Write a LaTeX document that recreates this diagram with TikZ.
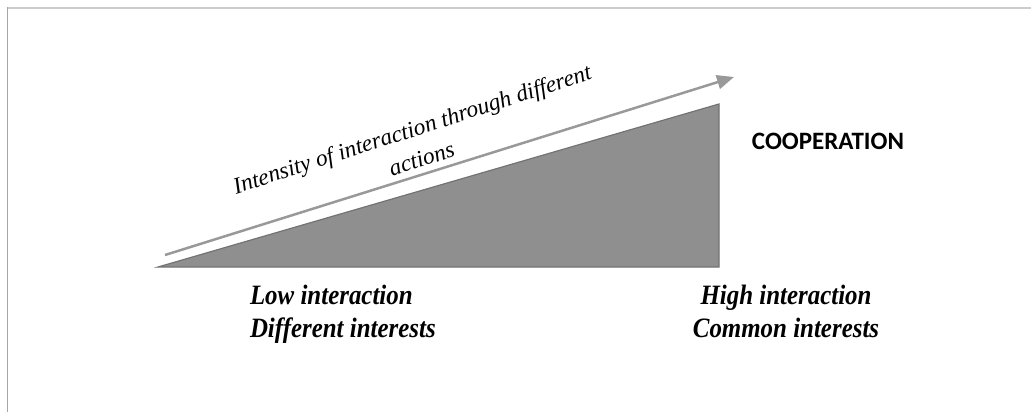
\documentclass[tikz,border=0pt]{standalone}
\usepackage{fontspec}
\setmainfont{Liberation Serif}
\newfontfamily\levelfont[FakeStretch=0.89]{Liberation Serif}
\newfontfamily\coopfont{Carlito}
\usetikzlibrary{arrows.meta}

\begin{document}
\begin{tikzpicture}[x=1pt,y=-1pt]
\tikzstyle{every node}=[inner sep=0pt,outer sep=0pt]
\tikzstyle{level}=[font=\levelfont\bfseries\itshape\fontsize{28}{33}\selectfont]
 \useasboundingbox (0,0) rectangle (1031,412);
 % frame
 \draw[black!20,line width=2pt] (7,8) -- (1031,8);
 \draw[black!35,line width=1.5pt] (7.5,7) -- (7.5,412);
 % wedge
 \coordinate (L) at (158,267);
 \coordinate (R) at (719,267);
 \coordinate (T) at (719,104);
 \filldraw[fill=black!44,draw=black!55,line width=1.2pt] (L) -- (R) -- (T) -- cycle;
 % arrow
 \coordinate (A0) at (165,255);
 \coordinate (A1) at (734,77);
 \draw[-{Triangle[length=17pt,width=14pt]},line width=2.5pt,black!40] (A0) -- (A1);
 \node[rotate=17.9,anchor=base,align=center,
       font=\itshape\fontsize{23.3}{31}\selectfont] (intensity) at (424,166)
   {Intensity of interaction through different\\actions};
 \node[font=\coopfont\bfseries\fontsize{25}{25}\selectfont,anchor=base] (coop)
   at (828,149) {COOPERATION};
 \node[level,align=left,anchor=base west] (low) at (250,337)
   {Low interaction\\Different interests};
 \node[level,align=center,anchor=base] (high) at (786,337)
   {High interaction\\Common interests};
\end{tikzpicture}
\end{document}
